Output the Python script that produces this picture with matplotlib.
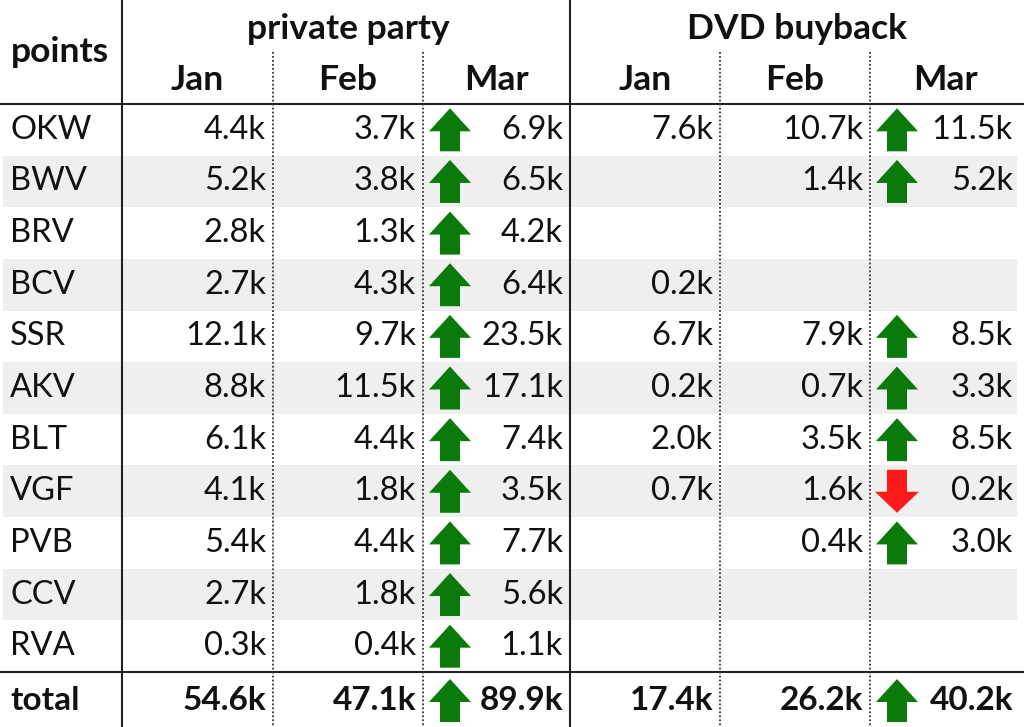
import matplotlib.pyplot as plt
from matplotlib.patches import Rectangle

plt.rcParams['font.family'] = ['Lato', 'DejaVu Sans']

# data (values in thousands, None = empty cell)
points = ["OKW", "BWV", "BRV", "BCV", "SSR", "AKV", "BLT", "VGF", "PVB", "CCV", "RVA"]
months = ["Jan", "Feb", "Mar"]
groups = ["private party", "DVD buyback"]

pp_jan = [4.4, 5.2, 2.8, 2.7, 12.1, 8.8, 6.1, 4.1, 5.4, 2.7, 0.3]
pp_feb = [3.7, 3.8, 1.3, 4.3, 9.7, 11.5, 4.4, 1.8, 4.4, 1.8, 0.4]
pp_mar = [6.9, 6.5, 4.2, 6.4, 23.5, 17.1, 7.4, 3.5, 7.7, 5.6, 1.1]

dvd_jan = [7.6, None, None, 0.2, 6.7, 0.2, 2.0, 0.7, None, None, None]
dvd_feb = [10.7, 1.4, None, None, 7.9, 0.7, 3.5, 1.6, 0.4, None, None]
dvd_mar = [11.5, 5.2, None, None, 8.5, 3.3, 8.5, 0.2, 3.0, None, None]

series = [pp_jan, pp_feb, pp_mar, dvd_jan, dvd_feb, dvd_mar]

# layout (pixels)
W, H = 1024, 727
col_edges = [0, 122, 273, 423, 570, 720, 870, 1020]
head_bottom = 104
total_top = 672
row_h = (total_top - head_bottom) / len(points)
FS = 23.5        # body text
FS_TOT = 24      # bold totals
FS_HEAD = 25.5   # bold headers
TXT = '#111111'
GREEN = '#0a7a0a'
RED = '#ff1a1a'
GREY = '#efefef'

fig = plt.figure(figsize=(W / 100, H / 100), dpi=100)
ax = fig.add_axes([0, 0, 1, 1])
ax.set_xlim(0, W)
ax.set_ylim(H, 0)
ax.axis('off')


def fmt(v):
    return '' if v is None else f'{v:.1f}k'


def arrow(x, yc, up):
    L = 43
    if up:
        ax.arrow(x, yc + L / 2, 0, -L, width=20, head_width=42, head_length=23,
                 length_includes_head=True, color=GREEN, lw=0, zorder=3)
    else:
        ax.arrow(x, yc - L / 2, 0, L, width=20, head_width=44, head_length=21,
                 length_includes_head=True, color=RED, lw=0, zorder=3)


# zebra rows
for i in range(len(points)):
    if i % 2 == 1:
        y0 = head_bottom + i * row_h
        ax.add_patch(Rectangle((3, y0), 1017 - 3, row_h, color=GREY, lw=0, zorder=0))

# headers
ax.text(60, 52, "points", ha='center', va='center', fontsize=FS_HEAD, fontweight='bold', color=TXT)
for g, name in enumerate(groups):
    x0 = col_edges[1 + 3 * g]
    x1 = col_edges[4 + 3 * g]
    ax.text((x0 + x1) / 2 + 2, 29, name, ha='center', va='center', fontsize=FS_HEAD,
            fontweight='bold', color=TXT)
    for m, mon in enumerate(months):
        c = 1 + 3 * g + m
        ax.text((col_edges[c] + col_edges[c + 1]) / 2, 80, mon, ha='center', va='center',
                fontsize=FS_HEAD, fontweight='bold', color=TXT)

# body rows
for i, p in enumerate(points):
    yc = head_bottom + (i + 0.5) * row_h
    ax.text(10, yc, p, ha='left', va='center', fontsize=FS, color=TXT)
    for c, s in enumerate(series):
        ax.text(col_edges[c + 2] - 7, yc, fmt(s[i]), ha='right', va='center',
                fontsize=FS, color=TXT)
    for g in range(2):
        feb, mar = series[3 * g + 1][i], series[3 * g + 2][i]
        if feb is not None and mar is not None:
            arrow(col_edges[3 + 3 * g] + 27, yc, mar >= feb)

# total row
yt = (total_top + H) / 2 + 1
ax.text(10, yt, "total", ha='left', va='center', fontsize=FS_TOT, fontweight='bold', color=TXT)
totals = [sum(v for v in s if v is not None) for s in series]
for c, t in enumerate(totals):
    ax.text(col_edges[c + 2] - 7, yt, fmt(t), ha='right', va='center',
            fontsize=FS_TOT, fontweight='bold', color=TXT)
for g in range(2):
    arrow(col_edges[3 + 3 * g] + 27, yt, totals[3 * g + 2] >= totals[3 * g + 1])

# grid lines
for y in (head_bottom, total_top):
    ax.plot([0, W], [y, y], color='#222222', lw=1.5, zorder=2)
for x in (col_edges[1], col_edges[4]):
    ax.plot([x, x], [0, H], color='#222222', lw=1.5, zorder=2)
for x in (col_edges[2], col_edges[3], col_edges[5], col_edges[6]):
    ax.plot([x, x], [52, H], color='#333333', lw=1.3, ls=(0, (1, 1.2)), zorder=2)

fig.savefig("out.png", dpi=100)
